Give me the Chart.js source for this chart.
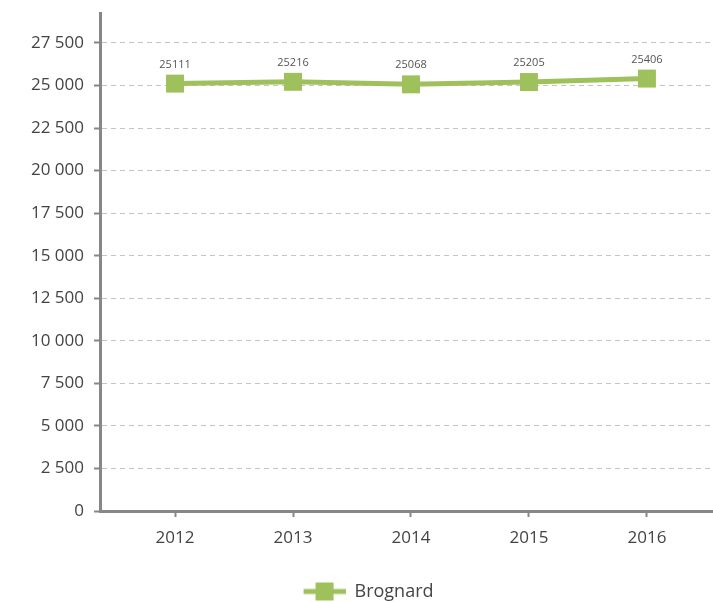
<!DOCTYPE html>
<html>
<head>
<meta charset="utf-8">
<script src="https://cdn.jsdelivr.net/npm/chart.js@4/dist/chart.umd.min.js"></script>
<style>
html,body{margin:0;padding:0;background:#fff;}
#wrap{width:713px;height:602px;position:relative;}
</style>
</head>
<body>
<div id="wrap"><canvas id="c" width="713" height="602"></canvas></div>
<script>
const categories = ['2012', '2013', '2014', '2015', '2016'];
const seriesName = 'Brognard';
const values = [25111, 25216, 25068, 25205, 25406];
const yTickValues = [0, 2500, 5000, 7500, 10000, 12500, 15000, 17500, 20000, 22500, 25000, 27500];

const GREEN = '#9fc15b';
const AXIS = '#878787';
const FONT = "'Open Sans', sans-serif";

function fmt(v) {
  return String(Math.round(v)).replace(/\B(?=(\d{3})+(?!\d))/g, ' ');
}

// legend marker: line with a square in the middle
const legendMark = document.createElement('canvas');
legendMark.width = 66; legendMark.height = 20;
(function(){
  const g = legendMark.getContext('2d');
  g.strokeStyle = GREEN; g.lineWidth = 5;
  g.beginPath(); g.moveTo(24, 10); g.lineTo(66, 10); g.stroke();
  g.fillStyle = GREEN; g.fillRect(36, 1, 18, 18);
})();

const dataLabels = {
  id: 'dataLabels',
  afterDatasetsDraw(chart) {
    const ctx = chart.ctx;
    const meta = chart.getDatasetMeta(0);
    ctx.save();
    ctx.font = "11px " + FONT;
    ctx.fillStyle = '#555';
    ctx.textAlign = 'center';
    ctx.textBaseline = 'alphabetic';
    meta.data.forEach((pt, i) => {
      ctx.fillText(String(values[i]), pt.x, pt.y - 16);
    });
    ctx.restore();
  }
};

const legendPlugin = {
  id: 'customLegend',
  afterDraw(chart) {
    const ctx = chart.ctx;
    ctx.save();
    ctx.font = "18px " + FONT;
    const label = chart.data.datasets[0].label;
    const tw = ctx.measureText(label).width;
    const markW = 42, gap = 9;
    const total = markW + gap + tw;
    const cx = 368.5;
    const x0 = cx - total / 2;
    const cy = 591.5;
    ctx.drawImage(legendMark, x0 - 24, cy - 10);
    ctx.fillStyle = '#444';
    ctx.textBaseline = 'middle';
    ctx.textAlign = 'left';
    ctx.fillText(label, x0 + markW + gap, cy);
    ctx.restore();
  }
};

new Chart(document.getElementById('c'), {
  type: 'line',
  data: {
    datasets: [{
      label: seriesName,
      data: categories.map((c, i) => ({x: Number(c), y: values[i]})),
      borderColor: GREEN,
      backgroundColor: GREEN,
      borderWidth: 5,
      tension: 0,
      pointStyle: 'rect',
      pointRadius: 12.7,
      pointHoverRadius: 12.7,
      pointBorderWidth: 0,
      pointBackgroundColor: GREEN,
      fill: false
    }]
  },
  options: {
    responsive: false,
    animation: false,
    devicePixelRatio: 1,
    layout: { autoPadding: false, padding: { top: 13, right: 0, left: 0, bottom: 51 } },
    plugins: {
      legend: { display: false },
      tooltip: { enabled: false }
    },
    scales: {
      x: {
        type: 'linear',
        min: 2011.364,
        max: 2016.56,
        afterFit(scale) { scale.height = 40; scale.paddingLeft = 0; scale.paddingRight = 0; },
        afterBuildTicks(scale) {
          scale.ticks = categories.map(c => ({value: Number(c)}));
        },
        ticks: {
          callback: (v) => String(v),
          font: { family: FONT, size: 17 },
          color: '#444',
          padding: 11,
          maxRotation: 0,
          autoSkip: false
        },
        grid: {
          drawOnChartArea: false,
          drawTicks: true,
          tickLength: 6,
          tickColor: AXIS,
          tickWidth: 2
        },
        border: { display: true, color: AXIS, width: 3 }
      },
      y: {
        min: 0,
        max: 29260,
        afterFit(scale) { scale.width = 100; scale.paddingTop = 0; scale.paddingBottom = 0; },
        afterBuildTicks(scale) {
          scale.ticks = yTickValues.map(v => ({value: v}));
        },
        ticks: {
          callback: (v) => fmt(v),
          font: { family: FONT, size: 17 },
          color: '#444',
          padding: 10
        },
        grid: {
          color: (ctx) => (ctx.tick && ctx.tick.value === 0) ? 'rgba(0,0,0,0)' : '#c4c4c4',
          lineWidth: 1,
          drawTicks: true,
          tickLength: 6,
          tickColor: AXIS,
          tickWidth: 2
        },
        border: { display: true, color: AXIS, width: 3, dash: [5, 4] }
      }
    }
  },
  plugins: [dataLabels, legendPlugin]
});
</script>
</body>
</html>
